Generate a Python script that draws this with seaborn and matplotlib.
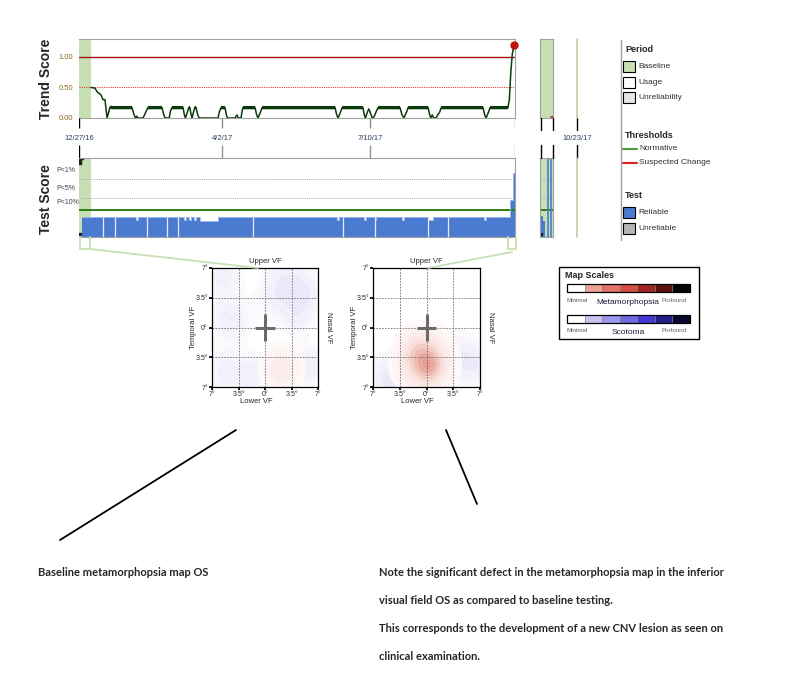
import numpy as np
import matplotlib
matplotlib.use("Agg")
import matplotlib.pyplot as plt
import seaborn as sns
from matplotlib.colors import LinearSegmentedColormap
from matplotlib.patches import Rectangle

sns.set_theme(style="white")
plt.rcParams['font.family'] = ['Liberation Sans', 'DejaVu Sans']
NARROW = ['Liberation Sans Narrow', 'Liberation Sans', 'DejaVu Sans']

# ---------------- data ----------------
date_labels = ["12/27/16", "4/2/17", "7/10/17"]
date_days = [0, 96, 195]
axis_days = (0, 292)
baseline_days = (0, 8)

# trend score (days since 12/27/16)
trend_day = [8, 10.7, 12.1, 14.7, 16.1, 17.4, 18.8, 20.8, 22.1,
             35.5, 36.8, 37.8, 38.6, 39.5, 42.9, 45.2, 46.2,
             55.6, 56.8, 57.8, 60.4, 61.3, 62.3,
             69.7, 70.5, 71.2, 72.4, 73.5, 74.3, 75.0, 75.7, 76.5, 77.5, 78.4, 79.2, 80.2, 81.0,
             93.1, 94.0, 95.1, 97.8, 98.6, 99.4,
             104.5, 105.8, 106.6, 108.5, 109.3, 109.8,
             117.9, 118.9, 119.9, 121.6, 122.6,
             171.5, 172.5, 173.5, 175.2, 176.2,
             190.2, 191.0, 191.8, 193.2, 194.1, 195.2, 196.4, 197.6, 199.3, 200.3,
             215.0, 216.2, 217.6, 219.4, 220.4,
             233.8, 234.8, 235.6, 236.6, 237.6, 239.0, 241.6, 242.6,
             270.6, 271.6, 272.6, 274.3, 275.3,
             287.3, 288.2, 289.2, 290.2, 291.4]
trend_val = [0.50, 0.49, 0.43, 0.38, 0.30, 0.30, 0.00, 0.18, 0.17,
             0.17, 0.06, 0.00, 0.03, 0.00, 0.00, 0.12, 0.17,
             0.17, 0.05, 0.00, 0.00, 0.12, 0.17,
             0.17, 0.06, 0.00, 0.08, 0.17, 0.17, 0.06, 0.00, 0.08, 0.17, 0.17, 0.08, 0.01, 0.00,
             0.00, 0.10, 0.17, 0.17, 0.06, 0.00,
             0.00, 0.05, 0.00, 0.00, 0.12, 0.17,
             0.17, 0.06, 0.00, 0.10, 0.17,
             0.17, 0.06, 0.00, 0.10, 0.17,
             0.17, 0.06, 0.00, 0.10, 0.15, 0.08, 0.00, 0.02, 0.12, 0.17,
             0.17, 0.06, 0.00, 0.10, 0.17,
             0.17, 0.06, 0.00, 0.05, 0.00, 0.00, 0.10, 0.17,
             0.17, 0.06, 0.00, 0.10, 0.17,
             0.17, 0.30, 0.75, 1.05, 1.20]
alert_day, alert_val = 291.4, 1.20
thr_change, thr_suspect = 1.0, 0.5

# test score (fraction of panel height), post-step
test_day = [2, 38.3, 39.6, 70.5, 71.5, 73.8, 74.8, 77.2, 78.2, 81.0, 93.1,
            173.0, 174.2, 191.2, 192.2, 198.0, 199.0, 216.6, 217.6,
            233.6, 236.8, 271.4, 272.4, 288.7, 290.7, 292]
test_val = [0.255, 0.215, 0.255, 0.215, 0.255, 0.215, 0.255, 0.215, 0.255, 0.205, 0.255,
            0.215, 0.255, 0.215, 0.255, 0.215, 0.255, 0.215, 0.255,
            0.215, 0.255, 0.215, 0.255, 0.47, 0.81, 0.81]
test_gap_days = [16.1, 24.1, 45.5, 58.9, 66.3, 116.5, 176.8, 198.3, 233.8, 247.1]
p_levels = [0.73, 0.49]
p_labels = ["P<1%", "P<5%", "P<10%"]
normative_level = 0.342

# second (short) period panel
p2_x = [0.05, 0.25, 0.42]
p2_val = [0.26, 0.20, 0.0]
p2_lines = [0.62, 0.88]

# map blobs: (x deg, y deg, spread deg, strength)
base_meta = [(2.2, -4.8, 1.8, 0.30)]
base_scot = [(-5.5, 6.0, 1.6, 0.25), (-4.5, 1.0, 1.7, 0.30), (2.5, 5.5, 1.8, 0.25),
             (5.0, 4.0, 1.8, 0.30), (4.2, 1.0, 1.4, 0.20), (1.0, 3.0, 1.5, 0.15),
             (-5.0, -5.2, 1.8, 0.25), (-1.5, -5.5, 1.5, 0.25), (5.8, -4.5, 1.5, 0.30)]
new_meta = [(-0.2, -4.0, 2.3, 0.55), (-1.0, -3.0, 1.5, 0.25), (0.3, -4.6, 1.1, 0.45)]
new_scot = [(-5.0, -6.0, 1.8, 0.30), (4.0, -3.2, 1.8, 0.25), (6.3, -4.5, 1.5, 0.25),
            (-3.0, -6.5, 1.5, 0.25)]

meta_scale = ['#ffffff', '#eea096', '#e07266', '#d94c42', '#a12521', '#5c130e', '#050303']
scot_scale = ['#ffffff', '#c9c5f3', '#9d97e9', '#7068de', '#4538d6', '#221f8a', '#08072e']

map_ticks = [-7, -3.5, 0, 3.5, 7]
map_tick_labels = ['7°', '3.5°', '0°', '3.5°', '7°']

GREEN_BAND = '#c6e0b4'
BLUE = '#4a7bd0'
W, H = 797, 678


def rect(x0, y0, x1, y1):
    return [x0 / W, 1 - y1 / H, (x1 - x0) / W, (y1 - y0) / H]


def frame(ax, color='#a0a0a0', left=False):
    for s in ax.spines.values():
        s.set_color(color)
        s.set_linewidth(0.8)
    ax.spines['left'].set_visible(left)


fig = plt.figure(figsize=(7.97, 6.78), dpi=100)
fig.patch.set_facecolor('white')

# ---------------- trend score ----------------
ax_tr = fig.add_axes(rect(79, 39, 515, 118))
ax_tr.set_xlim(*axis_days)
ax_tr.set_ylim(0, 1.295)
ax_tr.axvspan(*baseline_days, color=GREEN_BAND, lw=0)
ax_tr.axhline(thr_change, color='#a31515', lw=1)
ax_tr.axhline(thr_suspect, color='#e03c3c', lw=0.8, ls=(0, (1, 1)))
sns.lineplot(x=trend_day, y=trend_val, ax=ax_tr, color='#0c3a0c', lw=1.1,
             estimator=None, sort=False)
tv = np.array(trend_val)
thick = np.where((tv >= 0.165) & (tv <= 0.2), tv, np.nan)
ax_tr.plot(trend_day, thick, color='#0c3a0c', lw=2.4, solid_capstyle='butt')
ax_tr.plot(alert_day, alert_val, 'o', color='#c0120c', ms=5, clip_on=False, zorder=5)
ax_tr.set_yticks([0, 0.5, 1.0])
ax_tr.set_yticklabels(['0.00', '0.50', '1.00'], fontsize=5.5, color='#8a6a20')
ax_tr.set_xticks([])
ax_tr.tick_params(axis='y', length=0, pad=4)
frame(ax_tr)

# ---------------- date strip ----------------
ax_d = fig.add_axes(rect(79, 118, 515, 158))
ax_d.set_xlim(*axis_days)
ax_d.set_ylim(0, 1)
ax_d.axis('off')
for i, (d, lab) in enumerate(zip(date_days, date_labels)):
    c = 'black' if i == 0 else '#909090'
    ax_d.vlines(d, 0.75, 1.0, color=c, lw=1)
    ax_d.vlines(d, 0.0, 0.325, color=c, lw=1)
    ax_d.text(d, 0.5, lab, ha='center', va='center', fontsize=5.5,
              color='#2b3f66', family=NARROW)
ax_d.vlines(axis_days[1], 0.75, 1.0, color='#909090', lw=1)
ax_d.vlines(axis_days[1], 0.0, 0.325, color='#909090', lw=1)

# ---------------- test score ----------------
ax_ts = fig.add_axes(rect(79, 158, 515, 237))
ax_ts.set_xlim(*axis_days)
ax_ts.set_ylim(0, 1)
ax_ts.axvspan(*baseline_days, color=GREEN_BAND, lw=0)
for lv in p_levels:
    ax_ts.axhline(lv, color='#b0b0b0', lw=0.7, ls=(0, (1, 1)))
ax_ts.axhline(normative_level, color='#2e7d10', lw=1.4)
ax_ts.fill_between(test_day, test_val, step='post', color=BLUE, lw=0)
ax_ts.step(test_day, test_val, where='post', color='#a9c1ea', lw=0.6)
ax_ts.vlines(test_gap_days, 0, 0.255, color='#e4ebf8', lw=0.9)
ax_ts.plot(0.6, 0.04, 's', color='#202020', ms=2)
ax_ts.plot(0.6, 0.96, marker='$\\mathbf{T}$', color='#202020', ms=4)
ax_ts.set_xticks([])
ax_ts.set_yticks([])
frame(ax_ts)

# ---------------- short period panels ----------------
ax_t2 = fig.add_axes(rect(540, 39, 553, 118))
ax_t2.set_facecolor(GREEN_BAND)
ax_t2.set_xticks([]); ax_t2.set_yticks([])
ax_t2.set_xlim(0, 1); ax_t2.set_ylim(0, 1)
ax_t2.plot([0.85, 1.0], [0.01, 0.01], color='#c0120c', lw=1.2)
frame(ax_t2, left=True)

ax_s2 = fig.add_axes(rect(540, 158, 553, 237))
ax_s2.set_facecolor(GREEN_BAND)
ax_s2.set_xlim(0, 1); ax_s2.set_ylim(0, 1)
for lv in p_levels:
    ax_s2.axhline(lv, color='#b0b0b0', lw=0.7, ls=(0, (1, 1)))
ax_s2.axhline(normative_level, color='#2e7d10', lw=1.4)
ax_s2.fill_between(p2_x, p2_val, step='post', color=BLUE, lw=0)
ax_s2.vlines(p2_lines, 0, 1, color=BLUE, lw=1.2)
ax_s2.plot(0.05, 0.04, 's', color='#202020', ms=2)
ax_s2.set_xticks([]); ax_s2.set_yticks([])
frame(ax_s2, left=True)

# ---------------- field maps ----------------
grid = np.linspace(-7, 7, 241)
GX, GY = np.meshgrid(grid, grid)
meta_cmap = LinearSegmentedColormap.from_list('meta', ['#ffffff', '#f8dcd8', '#e99c92'])
scot_cmap = LinearSegmentedColormap.from_list('scot', ['#ffffff', '#e9e7f8', '#d6d3f3'])


def field(blobs):
    f = np.zeros_like(GX)
    for bx, by, bs, bw in blobs:
        f += bw * np.exp(-((GX - bx) ** 2 + (GY - by) ** 2) / (2 * bs ** 2))
    return f


def draw_map(box, meta, scot):
    ax = fig.add_axes(rect(*box))
    ax.set_xlim(-7, 7)
    ax.set_ylim(-7, 7)
    lv = [0.06, 0.12, 0.2, 0.3, 0.42, 0.55, 0.7, 0.85, 1.0]
    ax.contourf(GX, GY, field(scot), levels=lv, cmap=scot_cmap, vmin=0, vmax=0.8,
                extend='max', antialiased=True)
    ax.contourf(GX, GY, field(meta), levels=lv, cmap=meta_cmap, vmin=0, vmax=1.0,
                extend='max', antialiased=True)
    for g in [-3.5, 0, 3.5]:
        ax.axvline(g, color='#6e6e6e', lw=0.6, ls=(0, (2, 1.5)))
        ax.axhline(g, color='#6e6e6e', lw=0.6, ls=(0, (2, 1.5)))
    ax.plot([-1.3, 1.3], [0, 0], color='#6b6b6b', lw=2.2, solid_capstyle='butt')
    ax.plot([0, 0], [-1.6, 1.6], color='#6b6b6b', lw=2.2, solid_capstyle='butt')
    ax.set_xticks(map_ticks)
    ax.set_xticklabels(map_tick_labels)
    ax.set_yticks(map_ticks)
    ax.set_yticklabels(map_tick_labels[::-1])
    ax.tick_params(labelsize=5, length=2, pad=1, bottom=True, left=True,
                   direction='out', color='black')
    for s in ax.spines.values():
        s.set_color('black')
        s.set_linewidth(0.9)
    ax.text(0, 7.3, 'Upper VF', ha='center', va='bottom', fontsize=5.5, family=NARROW)
    ax.text(-1.2, -8.25, 'Lower VF', ha='center', va='top', fontsize=5.5, family=NARROW)
    ax.text(-9.4, 0, 'Temporal VF', ha='center', va='center', rotation=90,
            fontsize=5.5, family=NARROW)
    ax.text(7.9, 0, 'Nasal VF', ha='left', va='center', rotation=270,
            fontsize=5.5, family=NARROW)
    return ax


draw_map((212, 268, 318, 387), base_meta, base_scot)
draw_map((373, 268, 480, 387), new_meta, new_scot)

# ---------------- overlay (labels, legend, connectors, notes) ----------------
ov = fig.add_axes([0, 0, 1, 1], zorder=10)
ov.set_xlim(0, W)
ov.set_ylim(H, 0)
ov.axis('off')
ov.patch.set_alpha(0)

ov.text(46, 79, 'Trend Score', rotation=90, ha='center', va='center',
        fontsize=10, fontweight='bold')
ov.text(46, 199, 'Test Score', rotation=90, ha='center', va='center',
        fontsize=10, fontweight='bold')

# P labels
for lab, yy in zip(p_labels, [170, 189, 203]):
    ov.text(56, yy, lab, fontsize=5, color='#404040', va='center', family=NARROW)

# short period date ticks
for xx in [541, 553, 577]:
    ov.plot([xx, xx], [118, 130], color='black', lw=1)
    ov.plot([xx, xx], [145, 158], color='black', lw=1)
ov.plot([577, 577], [39, 118], color='#b8d0a8', lw=1.2)
ov.plot([577, 577], [158, 237], color='#b8d0a8', lw=1.2)
ov.text(577, 138, '10/23/17', ha='center', va='center', fontsize=5.5,
        color='#2b3f66', family=NARROW)

# connectors to maps
cg = GREEN_BAND
ov.plot([80, 80, 90, 90], [237, 249, 249, 237], color=cg, lw=1.3)
ov.plot([90, 258], [249, 268], color=cg, lw=1.3)
ov.plot([508, 508, 516, 516], [237, 249, 249, 237], color=cg, lw=1.3)
ov.plot([512, 428], [252, 268], color=cg, lw=1.3)

# legend
ov.plot([621, 621], [40, 240], color='#a0a0a0', lw=1)
ov.text(625, 49, 'Period', fontsize=6.5, fontweight='bold', va='center')
for (lab, col), yy in zip([('Baseline', GREEN_BAND), ('Usage', 'white'),
                           ('Unreliability', '#e6e6e6')], [61, 77, 92]):
    ov.add_patch(Rectangle((623, yy), 12, 11, facecolor=col, edgecolor='black', lw=0.8))
    ov.text(638, yy + 5.5, lab, fontsize=6, va='center', color='#303030', family=NARROW)
ov.text(625, 136, 'Thresholds', fontsize=6.5, fontweight='bold', va='center')
ov.plot([623, 637], [149, 149], color='#4a9a30', lw=1.5)
ov.text(639, 149, 'Normative', fontsize=6, va='center', color='#303030', family=NARROW)
ov.plot([623, 637], [163, 163], color='#e02020', lw=1.5)
ov.text(639, 163, 'Suspected Change', fontsize=6, va='center', color='#303030', family=NARROW)
ov.text(625, 195, 'Test', fontsize=6.5, fontweight='bold', va='center')
for (lab, col), yy in zip([('Reliable', BLUE), ('Unreliable', '#b4b4b4')], [207, 223]):
    ov.add_patch(Rectangle((623, yy), 12, 11, facecolor=col, edgecolor='black', lw=0.8))
    ov.text(638, yy + 5.5, lab, fontsize=6, va='center', color='#303030', family=NARROW)

# map scales box
ov.add_patch(Rectangle((559, 267), 140, 72, facecolor='white', edgecolor='black', lw=1))
ov.text(565, 276, 'Map Scales', fontsize=6.5, fontweight='bold', va='center')
cell_w = (690 - 567) / 7
for y0, colors, name, ly in [(284, meta_scale, 'Metamorphopsia', 301),
                             (315, scot_scale, 'Scotoma', 331)]:
    for i, c in enumerate(colors):
        ov.add_patch(Rectangle((567 + i * cell_w, y0), cell_w, 8, facecolor=c,
                               edgecolor='#808080', lw=0.4))
    ov.add_patch(Rectangle((567, y0), 123, 8, facecolor='none', edgecolor='black', lw=0.9))
    ov.text(567, ly, 'Minimal', fontsize=4.5, color='#606060', va='center', family=NARROW)
    ov.text(628, ly + 1, name, fontsize=6, color='#1a1a40', va='center', ha='center',
            family=NARROW)
    ov.text(662, ly, 'Profound', fontsize=4.5, color='#606060', va='center', family=NARROW)

# annotation lines and notes
ov.plot([236, 60], [430, 540], color='black', lw=1.3)
ov.plot([446, 477], [430, 504], color='black', lw=1.3)
note_font = ['Lato', 'DejaVu Sans']
ov.text(38, 572, 'Baseline metamorphopsia map OS', fontsize=8, fontweight='bold',
        va='center', family=note_font)
notes = ['Note the significant defect in the metamorphopsia map in the inferior',
         'visual field OS as compared to baseline testing.',
         'This corresponds to the development of a new CNV lesion as seen on',
         'clinical examination.']
for txt, yy in zip(notes, [572, 601, 629, 657]):
    ov.text(379, yy, txt, fontsize=8, fontweight='bold', va='center', family=note_font)

fig.savefig('out.png', dpi=100)
